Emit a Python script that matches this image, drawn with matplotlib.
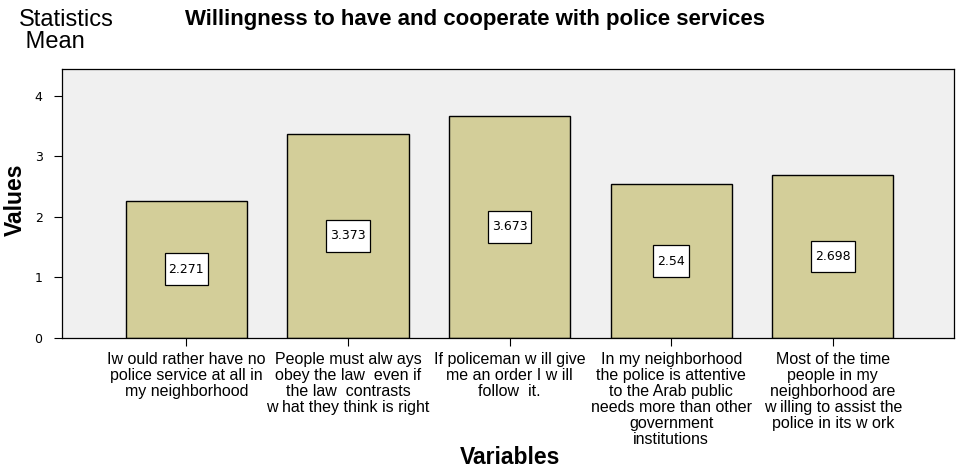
import matplotlib
matplotlib.use("Agg")
import matplotlib.pyplot as plt
from matplotlib.path import Path

categories = [
    "Iw ould rather have no\npolice service at all in\nmy neighborhood",
    "People must alw ays\nobey the law  even if\nthe law  contrasts\nw hat they think is right",
    "If policeman w ill give\nme an order I w ill\nfollow  it.",
    "In my neighborhood\nthe police is attentive\nto the Arab public\nneeds more than other\ngovernment\ninstitutions",
    "Most of the time\npeople in my\nneighborhood are\nw illing to assist the\npolice in its w ork",
]
values = [2.271, 3.373, 3.673, 2.54, 2.698]
value_labels = ["2.271", "3.373", "3.673", "2.54", "2.698"]
yticks = [0, 1, 2, 3, 4]


def label_box(x0, y0, width, height, mutation_size):
    px = 0.32 * mutation_size
    py = 0.75 * mutation_size
    x1, y1 = x0 - px, y0 - py
    x2, y2 = x0 + width + px, y0 + height + py
    return Path([(x1, y1), (x2, y1), (x2, y2), (x1, y2), (x1, y1)], closed=True)


fig = plt.figure(figsize=(9.56, 4.68), dpi=100)
ax = fig.add_axes([62/956, 1-338/468, (954-62)/956, (338-69)/468])
ax.set_facecolor("#f0f0f0")
x = list(range(len(values)))
ax.bar(x, values, width=0.75, color="#d3ce99", edgecolor="black", linewidth=1.0, zorder=2)
for xi, v, lab in zip(x, values, value_labels):
    ax.text(xi, v/2, lab, ha="center", va="center", fontsize=9, family="DejaVu Sans",
            bbox=dict(boxstyle=label_box, fc="white", ec="black", lw=0.9), zorder=3)
ax.set_xlim(-0.77, 4.75)
ax.set_ylim(0, 4.446)
ax.set_yticks(yticks)
ax.set_yticklabels([str(t) for t in yticks], fontsize=9, family="DejaVu Sans")
ax.set_xticks(x)
ax.set_xticklabels(categories, fontsize=11.5, family="Liberation Sans", linespacing=1.08)
ax.tick_params(axis="y", length=6, width=0.8, pad=8)
ax.tick_params(axis="x", length=6, width=0.8, pad=4)
for s in ax.spines.values():
    s.set_linewidth(0.9)

fig.text(510/956, 1-457/468, "Variables", ha="center", va="center", fontsize=16.5, fontweight="bold", family="Liberation Sans")
fig.text(15/956, 1-200/468, "Values", ha="center", va="center", rotation=90, fontsize=16.5, fontweight="bold", family="Liberation Sans")
fig.text(475/956, 1-20/468, "Willingness to have and cooperate with police services", ha="center", va="center", fontsize=16, fontweight="bold", family="Liberation Sans")
fig.text(19/956, 1-31/468, "Statistics\n Mean", ha="left", va="center", multialignment="left", fontsize=17, family="Liberation Sans", linespacing=1.0)

fig.savefig("out.png", dpi=100)
